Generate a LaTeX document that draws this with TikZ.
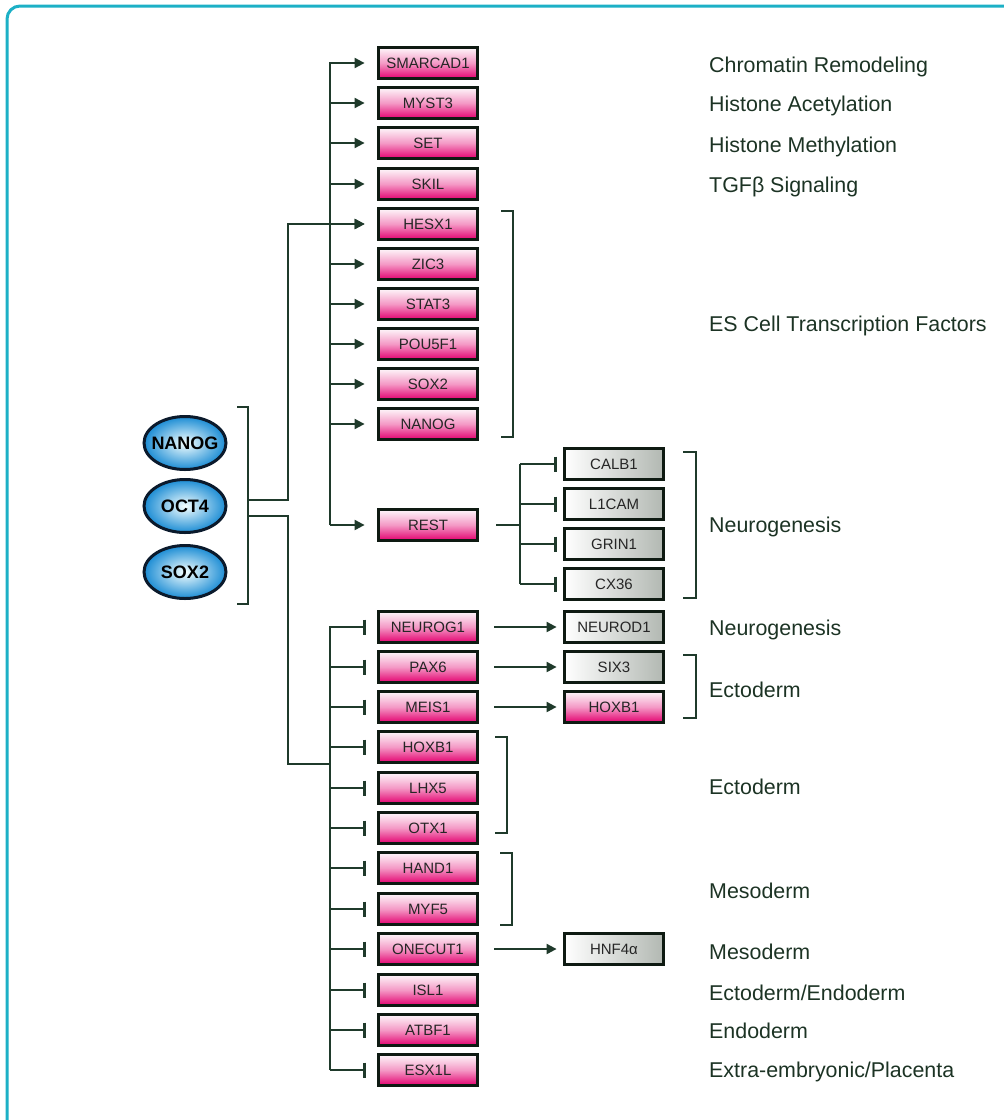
\documentclass[tikz,border=0pt]{standalone}
\usepackage{fontspec}
\setmainfont{Liberation Sans}
\usetikzlibrary{arrows.meta, calc, positioning, shapes.geometric}

\definecolor{linegreen}{HTML}{1F3A2B}
\definecolor{textgreen}{HTML}{1C3324}
\definecolor{frameblue}{HTML}{1CB0C6}
\definecolor{genepink}{HTML}{E3006F}
\definecolor{genegrey}{HTML}{B2B8B2}
\definecolor{boxblack}{HTML}{0E1A12}
\definecolor{cellblue}{HTML}{1B8CD4}
\definecolor{cellborder}{HTML}{0B1A2C}

\begin{document}
\begin{tikzpicture}[x=1pt, y=-1pt,
  line/.style={draw=linegreen, line width=2pt},
  act/.style={line, -{Triangle[length=10pt,width=10pt]}},
  inh/.style={line, -{Bar[width=15pt,line width=2.5pt]}},
  brack/.style={draw=linegreen, line width=2pt},
  gene/.style={draw=boxblack, line width=3.8pt, minimum width=99pt,
    minimum height=31pt, inner sep=0pt, text height=10.7pt, text depth=0pt,
    font=\fontsize{15}{15}\selectfont, text=black!85},
  genebox/.style={gene, top color=genepink!3, bottom color=genepink,
    middle color=genepink!40},
  targetbox/.style={gene, left color=white, right color=genegrey},
  cell/.style={ellipse, draw=cellborder, line width=3pt, minimum width=82pt,
    minimum height=53pt, inner sep=0pt, inner color=cyan!4!white,
    outer color=cellblue, font=\bfseries\fontsize{18}{18}\selectfont},
  lab/.style={anchor=west, inner sep=0pt, text=textgreen, text height=15pt,
    text depth=0pt, font=\fontsize{21.4}{21.4}\selectfont}
]
\useasboundingbox (0,0) rectangle (1004,1120);
\clip (0,0) rectangle (1004,1120);

% frame
\draw[frameblue, line width=3pt, rounded corners=13pt] (7,6) rectangle (1030,1150);

% --- core factors ---
\node[cell] (nanog) at (185,443) {\makebox[0pt]{NANOG}};
\node[cell] (oct4)  at (185,506) {\makebox[0pt]{OCT4}};
\node[cell] (sox2)  at (185,572) {\makebox[0pt]{SOX2}};

% --- activated genes ---
\foreach \n/\t/\y in {smarcad1/SMARCAD1/63, myst3/MYST3/103, set/SET/143,
    skil/SKIL/184, hesx1/HESX1/224, zic3/ZIC3/264, stat3/STAT3/304,
    pou5f1/POU5F1/344, sox2t/SOX2/384, nanogt/NANOG/424, rest/REST/525}
  \node[genebox] (\n) at (428,\y) {\t};

% --- repressed genes ---
\foreach \n/\t/\y in {neurog1/NEUROG1/627, pax6/PAX6/667, meis1/MEIS1/707,
    hoxb1/HOXB1/747, lhx5/LHX5/788, otx1/OTX1/828, hand1/HAND1/868,
    myf5/MYF5/909, onecut1/ONECUT1/949, isl1/ISL1/990, atbf1/ATBF1/1030,
    esx1l/ESX1L/1070}
  \node[genebox] (\n) at (428,\y) {\t};

% --- downstream genes ---
\foreach \n/\t/\y in {calb1/CALB1/464, l1cam/L1CAM/504, grin1/GRIN1/544,
    cx36/CX36/584, neurod1/NEUROD1/627, six3/SIX3/667}
  \node[targetbox] (\n) at (614,\y) {\t};
\node[genebox] (hoxb1r) at (614,707) {HOXB1};
\node[targetbox] (hnf4a) at (614,949) {HNF4α};

% --- bus lines ---
\coordinate (split) at (288,0);
\coordinate (bus) at (330,0);
\coordinate (lowjoin) at (330,764);
\coordinate (oct-up) at (248,500);
\coordinate (oct-dn) at (248,516);

% bracket round the core factors
\draw[brack] (237,407) -- (248,407) -- (248,604) -- (237,604);
\draw[act, shorten >=12pt] (oct-up) -| (split |- hesx1.west) -- (hesx1.west);
\draw[line] (oct-dn) -| (split |- lowjoin) -- (lowjoin);

% upper bus with arrows
\draw[act, shorten >=12pt] (bus |- rest) -- (bus |- smarcad1) -- (smarcad1.west);
\foreach \n in {myst3, set, skil, hesx1, zic3, stat3, pou5f1, sox2t, nanogt, rest}
  \draw[act, shorten >=12pt] (bus |- \n.west) -- (\n.west);

% lower bus with bars
\draw[inh, shorten >=11pt] (bus |- esx1l) -- (bus |- neurog1) -- (neurog1.west);
\foreach \n in {pax6, meis1, hoxb1, lhx5, otx1, hand1, myf5, onecut1, isl1, atbf1, esx1l}
  \draw[inh, shorten >=11pt] (bus |- \n.west) -- (\n.west);

% REST fork
\coordinate (fork) at (520,525);
\draw[line, shorten <=17pt] (rest.east) -- (fork);
\draw[line] (fork |- calb1) -- (fork |- cx36);
\foreach \n in {calb1, l1cam, grin1, cx36}
  \draw[inh, shorten >=6pt] (fork |- \n.west) -- (\n.west);

% second step arrows
\foreach \a/\b in {neurog1/neurod1, pax6/six3, meis1/hoxb1r, onecut1/hnf4a}
  \draw[act, shorten <=15pt, shorten >=6pt] (\a.east) -- (\b.west);

% --- brackets on the right ---
\draw[brack] (501,211) -- (513,211) -- (513,437) -- (501,437);
\draw[brack] (683,452) -- (696,452) -- (696,598) -- (683,598);
\draw[brack] (683,655) -- (696,655) -- (696,718) -- (683,718);
\draw[brack] (495,737) -- (507,737) -- (507,833) -- (495,833);
\draw[brack] (500,853) -- (512,853) -- (512,925) -- (500,925);

% --- labels ---
\node[lab] (l-chrom)  at (709,65)   {Chromatin Remodeling};
\node[lab] (l-acet)   at (709,104)  {Histone Acetylation};
\node[lab] (l-meth)   at (709,145)  {Histone Methylation};
\node[lab] (l-tgfb)   at (709,185)  {TGFβ Signaling};
\node[lab] (l-es)     at (709,324)  {ES Cell Transcription Factors};
\node[lab] (l-neuro)  at (709,525)  {Neurogenesis};
\node[lab] (l-neuro2) at (709,628)  {Neurogenesis};
\node[lab] (l-ecto)   at (709,690)  {Ectoderm};
\node[lab] (l-ecto2)  at (709,787)  {Ectoderm};
\node[lab] (l-meso)   at (709,891)  {Mesoderm};
\node[lab] (l-meso2)  at (709,952)  {Mesoderm};
\node[lab] (l-ectoen) at (709,993)  {Ectoderm/Endoderm};
\node[lab] (l-endo)   at (709,1031) {Endoderm};
\node[lab] (l-extra)  at (709,1070) {Extra-embryonic/Placenta};

\end{tikzpicture}
\end{document}
